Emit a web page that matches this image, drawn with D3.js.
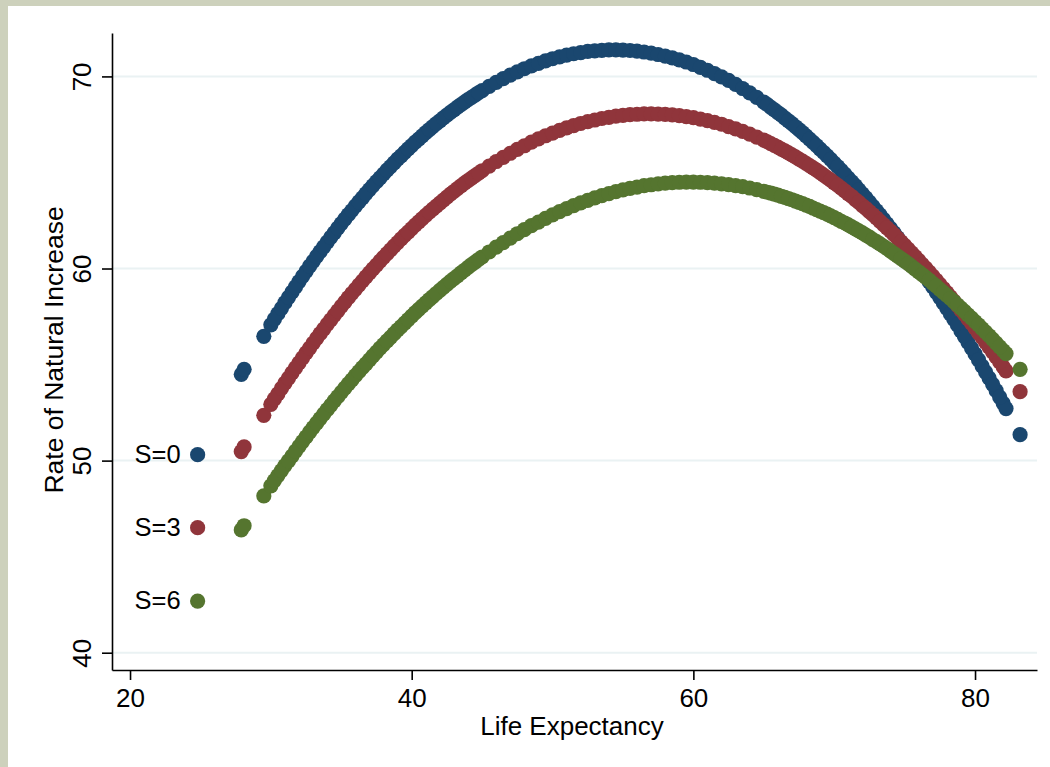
<!DOCTYPE html>
<html>
<head>
<meta charset="utf-8">
<script src="https://cdn.jsdelivr.net/npm/d3@7"></script>
<style>
  body { margin: 0; background: #fff; }
  text { font-family: "Liberation Sans", Arial, Helvetica, sans-serif; }
</style>
</head>
<body>
<div id="chart"></div>
<script>
// life expectancy values (x) shared by all three series
const lifeExp = [24.8, 27.9, 28.1, 29.5,
  30.0, 30.5, 31.0, 31.5, 32.0, 32.5, 33.0, 33.5, 34.0, 34.5, 35.0, 35.5, 36.0, 36.5, 37.0, 37.5,
  38.0, 38.5, 39.0, 39.5, 40.0, 40.5, 41.0, 41.5, 42.0, 42.5, 43.0, 43.5, 44.0, 44.5, 45.0, 45.5,
  46.0, 46.5, 47.0, 47.5, 48.0, 48.5, 49.0, 49.5, 50.0, 50.5, 51.0, 51.5, 52.0, 52.5, 53.0, 53.5,
  54.0, 54.5, 55.0, 55.5, 56.0, 56.5, 57.0, 57.5, 58.0, 58.5, 59.0, 59.5, 60.0, 60.5, 61.0, 61.5,
  62.0, 62.5, 63.0, 63.5, 64.0, 64.5, 65.0, 65.5, 66.0, 66.5, 67.0, 67.5, 68.0, 68.5, 69.0, 69.5,
  70.0, 70.5, 71.0, 71.5, 72.0, 72.5, 73.0, 73.5, 74.0, 74.5, 75.0, 75.5, 76.0, 76.5, 77.0, 77.5,
  78.0, 78.5, 79.0, 79.5, 80.0, 80.5, 81.0, 81.5, 82.0, 82.2, 83.2];

// extra observations on the steep parts of the curves
const lifeExpFill = [30.25, 30.75, 31.25, 31.75, 32.25, 32.75, 33.25, 33.75, 34.25, 34.75,
  35.25, 35.75, 36.25, 36.75, 37.25, 37.75, 38.25, 38.75, 39.25, 39.75,
  40.25, 40.75, 41.25, 41.75, 42.25, 42.75, 43.25, 43.75, 44.25, 44.75,
  65.25, 65.75, 66.25, 66.75, 67.25, 67.75, 68.25, 68.75, 69.25, 69.75,
  70.25, 70.75, 71.25, 71.75, 72.25, 72.75, 73.25, 73.75, 74.25, 74.75,
  75.25, 75.75, 76.25, 76.75, 77.25, 77.75, 78.25, 78.75, 79.25, 79.75,
  80.25, 80.75, 81.25, 81.75];

// rate of natural increase, S=0
const rateS0 = [50.31, 54.49, 54.75, 56.47,
  57.07, 57.65, 58.22, 58.77, 59.32, 59.85, 60.37, 60.88, 61.38, 61.86, 62.34, 62.80, 63.25, 63.68, 64.11, 64.52,
  64.92, 65.31, 65.69, 66.05, 66.40, 66.74, 67.07, 67.39, 67.69, 67.98, 68.26, 68.53, 68.79, 69.03, 69.26, 69.48,
  69.69, 69.89, 70.07, 70.24, 70.40, 70.55, 70.68, 70.81, 70.92, 71.02, 71.11, 71.18, 71.24, 71.30, 71.33, 71.36,
  71.38, 71.38, 71.37, 71.35, 71.32, 71.27, 71.21, 71.14, 71.06, 70.97, 70.86, 70.75, 70.62, 70.47, 70.32, 70.15,
  69.98, 69.79, 69.59, 69.37, 69.14, 68.91, 68.66, 68.39, 68.12, 67.83, 67.54, 67.23, 66.90, 66.57, 66.22, 65.86,
  65.49, 65.11, 64.71, 64.31, 63.89, 63.46, 63.02, 62.56, 62.09, 61.61, 61.12, 60.62, 60.10, 59.58, 59.04, 58.49,
  57.92, 57.35, 56.76, 56.16, 55.55, 54.92, 54.29, 53.64, 52.98, 52.71, 51.35];
const rateS0Fill = [57.36, 57.93, 58.50, 59.05, 59.59, 60.12, 60.63, 61.13, 61.62, 62.10,
  62.57, 63.02, 63.47, 63.90, 64.32, 64.72, 65.12, 65.50, 65.87, 66.23,
  66.58, 66.91, 67.23, 67.54, 67.84, 68.13, 68.40, 68.66, 68.91, 69.15,
  68.53, 68.26, 67.98, 67.69, 67.38, 67.07, 66.74, 66.40, 66.04, 65.68,
  65.30, 64.91, 64.51, 64.10, 63.68, 63.24, 62.79, 62.33, 61.86, 61.37,
  60.87, 60.36, 59.84, 59.31, 58.76, 58.21, 57.64, 57.06, 56.46, 55.86,
  55.24, 54.61, 53.97, 53.31];

// S=3
const rateS3 = [46.51, 50.47, 50.71, 52.36,
  52.93, 53.48, 54.03, 54.57, 55.09, 55.61, 56.11, 56.61, 57.09, 57.56, 58.03, 58.48, 58.92, 59.35, 59.77, 60.18,
  60.58, 60.97, 61.35, 61.72, 62.08, 62.43, 62.77, 63.09, 63.41, 63.72, 64.01, 64.30, 64.57, 64.84, 65.09, 65.33,
  65.57, 65.79, 66.00, 66.20, 66.39, 66.58, 66.75, 66.91, 67.05, 67.19, 67.32, 67.44, 67.55, 67.65, 67.73, 67.81,
  67.87, 67.93, 67.97, 68.01, 68.03, 68.05, 68.05, 68.04, 68.02, 68.00, 67.96, 67.91, 67.85, 67.78, 67.70, 67.61,
  67.51, 67.39, 67.27, 67.14, 67.00, 66.84, 66.68, 66.50, 66.32, 66.12, 65.92, 65.70, 65.47, 65.24, 64.99, 64.73,
  64.46, 64.18, 63.89, 63.59, 63.28, 62.96, 62.63, 62.29, 61.94, 61.58, 61.20, 60.82, 60.43, 60.02, 59.61, 59.18,
  58.75, 58.30, 57.84, 57.38, 56.90, 56.41, 55.91, 55.40, 54.88, 54.67, 53.59];
const rateS3Fill = [53.21, 53.76, 54.30, 54.83, 55.35, 55.86, 56.36, 56.85, 57.33, 57.80,
  58.25, 58.70, 59.14, 59.56, 59.98, 60.39, 60.78, 61.17, 61.54, 61.90,
  62.26, 62.60, 62.93, 63.25, 63.56, 63.87, 64.16, 64.44, 64.71, 64.96,
  66.59, 66.41, 66.22, 66.02, 65.81, 65.59, 65.36, 65.12, 64.86, 64.60,
  64.33, 64.04, 63.75, 63.44, 63.13, 62.80, 62.46, 62.12, 61.76, 61.39,
  61.01, 60.62, 60.22, 59.81, 59.39, 58.96, 58.52, 58.07, 57.61, 57.14,
  56.65, 56.16, 55.66, 55.14];

// S=6
const rateS6 = [42.69, 46.39, 46.61, 48.16,
  48.69, 49.22, 49.74, 50.24, 50.74, 51.23, 51.72, 52.19, 52.65, 53.11, 53.55, 53.99, 54.42, 54.84, 55.25, 55.65,
  56.04, 56.42, 56.80, 57.16, 57.52, 57.87, 58.21, 58.54, 58.86, 59.17, 59.48, 59.77, 60.06, 60.33, 60.60, 60.86,
  61.11, 61.35, 61.58, 61.81, 62.02, 62.23, 62.42, 62.61, 62.79, 62.96, 63.12, 63.27, 63.42, 63.55, 63.68, 63.79,
  63.90, 64.00, 64.09, 64.17, 64.24, 64.31, 64.36, 64.41, 64.44, 64.47, 64.49, 64.50, 64.50, 64.49, 64.47, 64.45,
  64.41, 64.37, 64.32, 64.26, 64.19, 64.11, 64.02, 63.92, 63.82, 63.70, 63.58, 63.44, 63.30, 63.15, 62.99, 62.83,
  62.65, 62.46, 62.27, 62.06, 61.85, 61.63, 61.40, 61.16, 60.91, 60.65, 60.39, 60.11, 59.83, 59.54, 59.23, 58.92,
  58.60, 58.28, 57.94, 57.59, 57.24, 56.87, 56.50, 56.12, 55.73, 55.57, 54.75];
const rateS6Fill = [48.96, 49.48, 49.99, 50.49, 50.99, 51.48, 51.95, 52.42, 52.88, 53.33,
  53.77, 54.20, 54.63, 55.04, 55.45, 55.85, 56.23, 56.61, 56.98, 57.34,
  57.70, 58.04, 58.38, 58.70, 59.02, 59.33, 59.62, 59.91, 60.20, 60.47,
  63.97, 63.87, 63.76, 63.64, 63.51, 63.38, 63.23, 63.07, 62.91, 62.74,
  62.56, 62.37, 62.17, 61.96, 61.74, 61.51, 61.28, 61.04, 60.78, 60.52,
  60.25, 59.97, 59.68, 59.39, 59.08, 58.76, 58.44, 58.11, 57.77, 57.42,
  57.06, 56.69, 56.31, 55.92];

const seriesNames = ["S=0", "S=3", "S=6"];
const seriesColors = ["#1a476f", "#90353b", "#55752f"];
const xTicks = [20, 40, 60, 80];
const yTicks = [40, 50, 60, 70];

document.addEventListener("DOMContentLoaded", () => {
    let width = 1050, height = 767;
    let plot = { left: 112, right: 1037, top: 33, bottom: 670 };

    let svg = d3.select("#chart")
        .append("svg")
        .attr("width", width)
        .attr("height", height);

    // outer frame strips
    svg.append("rect").attr("x", 0).attr("y", 0).attr("width", width).attr("height", 6).attr("fill", "#cdd1bc");
    svg.append("rect").attr("x", 0).attr("y", 0).attr("width", 8).attr("height", height).attr("fill", "#cdd1bc");

    let x = d3.scaleLinear().domain([18.72, 84.4]).range([plot.left, plot.right]);
    let y = d3.scaleLinear().domain([39.1, 72.26]).range([plot.bottom, plot.top]);

    // gridlines
    svg.append("g")
        .selectAll("line")
        .data(yTicks)
        .enter()
        .append("line")
        .attr("x1", plot.left + 1)
        .attr("x2", plot.right)
        .attr("y1", d => y(d))
        .attr("y2", d => y(d))
        .attr("stroke", "#eaf2f3")
        .attr("stroke-width", 2);

    const allLife = lifeExp.concat(lifeExpFill);
    let allSeries = [rateS0.concat(rateS0Fill), rateS3.concat(rateS3Fill), rateS6.concat(rateS6Fill)]
        .map((vals, i) => ({
            name: seriesNames[i],
            color: seriesColors[i],
            points: vals.map((v, j) => ({ le: allLife[j], rate: v }))
        }));

    // markers, one group per series
    allSeries.forEach(s => {
        svg.append("g")
            .selectAll("circle")
            .data(s.points)
            .enter()
            .append("circle")
            .attr("cx", d => x(d.le))
            .attr("cy", d => y(d.rate))
            .attr("r", 7.6)
            .attr("fill", s.color);
    });

    // marker labels on the first point of each series
    svg.append("g")
        .selectAll("text")
        .data(allSeries)
        .enter()
        .append("text")
        .attr("x", d => x(d.points[0].le) - 17)
        .attr("y", d => y(d.points[0].rate) + 8)
        .attr("text-anchor", "end")
        .attr("font-size", 25.5)
        .attr("fill", "#000")
        .text(d => d.name);

    // y axis
    let yAxis = svg.append("g")
        .attr("transform", "translate(" + plot.left + ",0)")
        .call(d3.axisLeft(y).tickValues(yTicks).tickSize(10).tickSizeOuter(0));
    yAxis.select(".domain").attr("stroke", "#000").attr("stroke-width", 1.6);
    yAxis.selectAll(".tick line").attr("stroke", "#000").attr("stroke-width", 1.6);
    yAxis.selectAll(".tick text")
        .attr("x", 0).attr("dy", 0)
        .attr("transform", "translate(-21.5,0) rotate(-90)")
        .attr("text-anchor", "middle")
        .attr("font-size", 26)
        .attr("fill", "#000");

    // x axis
    let xAxis = svg.append("g")
        .attr("transform", "translate(0," + plot.bottom + ")")
        .call(d3.axisBottom(x).tickValues(xTicks).tickSize(10).tickSizeOuter(0));
    xAxis.select(".domain").attr("stroke", "#000").attr("stroke-width", 1.6);
    xAxis.selectAll(".tick line").attr("stroke", "#000").attr("stroke-width", 1.6);
    xAxis.selectAll(".tick text")
        .attr("y", 37).attr("dy", 0)
        .attr("font-size", 26)
        .attr("fill", "#000");

    // axis titles
    svg.append("text")
        .attr("x", 572)
        .attr("y", 735)
        .attr("text-anchor", "middle")
        .attr("font-size", 26)
        .text("Life Expectancy");

    svg.append("text")
        .attr("transform", "translate(63,350) rotate(-90)")
        .attr("text-anchor", "middle")
        .attr("font-size", 26.5)
        .text("Rate of Natural Increase");
});
</script>
</body>
</html>
